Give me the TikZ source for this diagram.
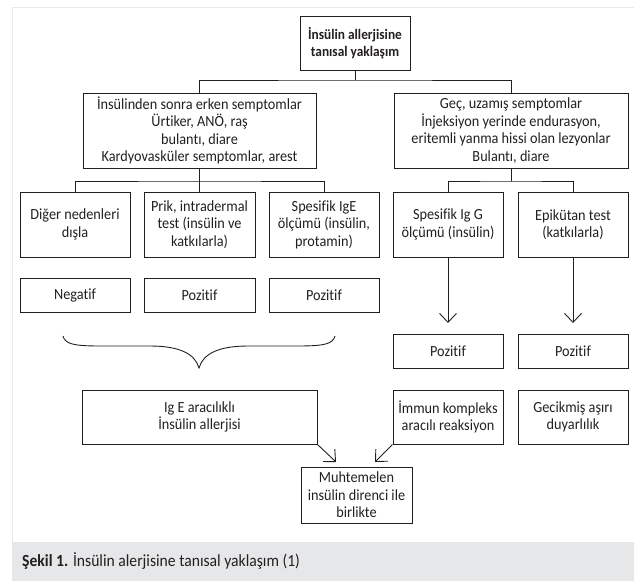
\documentclass[tikz,border=0pt]{standalone}
\usepackage{fontspec}
\setmainfont{Carlito}[FakeStretch=0.92,Ligatures=NoCommon]
\usetikzlibrary{arrows.meta}
\definecolor{framegray}{HTML}{E9E9E9}
\definecolor{bandgray}{HTML}{E6E7E8}
\definecolor{inkc}{HTML}{231F20}
\tikzset{
  bx/.style={draw=inkc, line width=1pt, inner sep=0pt, align=center, text=inkc,
             font=\fontsize{15.5}{17.5}\selectfont},
  ln/.style={draw=inkc, line width=0.9pt},
  arr/.style={ln, -{Straight Barb[length=9pt,width=17pt,line width=0.9pt]}},
}
\begin{document}
\begin{tikzpicture}[x=1pt,y=-1pt]
\useasboundingbox (0,0) rectangle (634,581);
% frame and caption band
\draw[framegray, line width=1pt] (12,581) -- (12,7) -- (634,7);
\fill[bandgray] (12,542) rectangle (634,581);
\node[anchor=west, text=inkc, font=\fontsize{17}{20}\selectfont, inner sep=0pt] (cap) at (22,561)
  {\textbf{Şekil 1.} İnsülin alerjisine tanısal yaklaşım (1)};
% boxes
\node[bx, minimum width=110, minimum height=54, font=\fontsize{14.5}{17.5}\selectfont\bfseries] (title) at (355,43)
  {İnsülin allerjisine\\tanısal yaklaşım};
\node[bx, minimum width=233, minimum height=75] (L) at (199.5,130.5)
  {İnsülinden sonra erken semptomlar\\Ürtiker, ANÖ, raş\\bulantı, diare\\Kardyovasküler semptomlar, arest};
\node[bx, minimum width=234, minimum height=75] (R) at (511,130.5)
  {Geç, uzamış semptomlar\\İnjeksiyon yerinde endurasyon,\\eritemli yanma hissi olan lezyonlar\\Bulantı, diare};
\node[bx, minimum width=110, minimum height=65] (A1) at (75,224.5) {Diğer nedenleri\\dışla};
\node[bx, minimum width=111, minimum height=65] (A2) at (199.5,224.5) {Prik, intradermal\\test (insülin ve\\katkılarla)};
\node[bx, minimum width=110, minimum height=65] (A3) at (324,224.5) {Spesifik IgE\\ölçümü (insülin,\\protamin)};
\node[bx, minimum width=110, minimum height=65] (B1) at (448,224.5) {Spesifik Ig G\\ölçümü (insülin)};
\node[bx, minimum width=110, minimum height=65] (B2) at (573,224.5) {Epikütan test\\(katkılarla)};
\node[bx, minimum width=110, minimum height=34] (N1) at (75,295) {Negatif};
\node[bx, minimum width=111, minimum height=34] (N2) at (199.5,295) {Pozitif};
\node[bx, minimum width=110, minimum height=34] (N3) at (324,295) {Pozitif};
\node[bx, minimum width=110, minimum height=34] (P1) at (448,351) {Pozitif};
\node[bx, minimum width=110, minimum height=34] (P2) at (573,351) {Pozitif};
\node[bx, minimum width=235, minimum height=54] (E) at (199.5,417) {Ig E aracılıklı\\İnsülin allerjisi};
\node[bx, minimum width=110, minimum height=54] (IM) at (448,417) {İmmun kompleks\\aracılı reaksiyon};
\node[bx, minimum width=110, minimum height=54] (G) at (573,417) {Gecikmiş aşırı\\duyarlılık};
\node[bx, minimum width=111, minimum height=56] (M) at (356.5,495) {Muhtemelen\\insülin direnci ile\\birlikte};
% forks
\coordinate (j1) at (355,80);
\coordinate (j2) at (199.5,181);
\coordinate (j3) at (511,181);
\draw[ln] (title.south) -- (j1);
\draw[ln] (L.north) |- (j1) -| (R.north);
\draw[ln] (L.south) -- (j2);
\draw[ln] (A1.north) |- (j2) -| (A3.north);
\draw[ln] (A2.north) -- (j2);
\draw[ln] (R.south) -- (j3);
\draw[ln] (B1.north) |- (j3) -| (B2.north);
% arrows
\coordinate (t1) at (448,323);
\coordinate (t2) at (573,323);
\coordinate (t3) at (336,462);
\coordinate (t4) at (375,462);
\draw[arr] (B1.south) -- (t1);
\draw[arr] (B2.south) -- (t2);
\draw[arr] (E.south east) -- (t3);
\draw[arr] (IM.south west) -- (t4);
% brace
\draw[ln] (63,336) .. controls (65,344) and (74,346) .. (100,346) -- (150,346)
  .. controls (180,346) and (195,354) .. (199,368)
  .. controls (203,354) and (218,346) .. (248,346) -- (298,346)
  .. controls (324,346) and (333,344) .. (335,336);
\end{tikzpicture}
\end{document}
